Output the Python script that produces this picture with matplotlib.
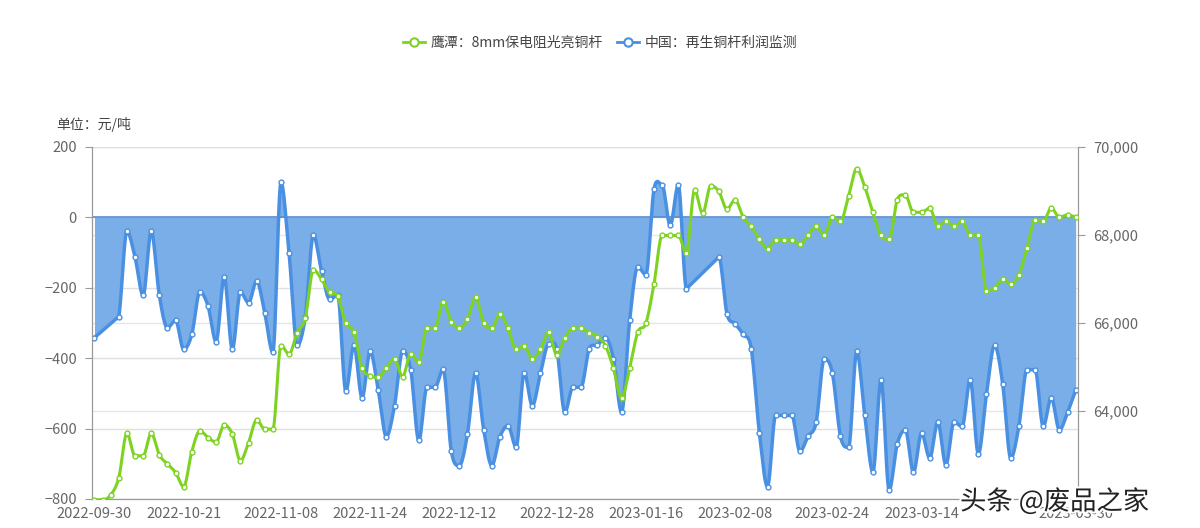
import numpy as np
import matplotlib.pyplot as plt
from matplotlib.ticker import FuncFormatter
import matplotlib.patheffects as pe

plt.rcParams['font.family'] = ['Noto Sans CJK SC', 'DejaVu Sans']

nan = np.nan
# 中国：再生铜杆利润监测 (元/吨, left axis)
profit = [-342, nan, nan, -282, -40, -113, -222, -40, -222, -314,
          -293, -375, -333, -212, -252, -353, -170, -375, -212, -243,
          -181, -272, -384, 99, -103, -364, -282, -51, -153, -233,
          -222, -494, -364, -513, -381, -492, -623, -535, -381, -433,
          -634, -483, -483, -432, -663, -705, -615, -443, -604, -705,
          -623, -592, -653, -442, -535, -443, -361, -374, -554, -483,
          -483, -374, -364, -342, -402, -554, -293, -141, -163, 79,
          91, -23, 91, -203, nan, nan, nan, -113, -274, -302,
          -333, -374, -613, -765, -563, -563, -563, -665, -622, -582,
          -402, -443, -622, -653, -381, -563, -724, -462, -775, -644,
          -604, -724, -613, -684, -582, -703, -582, -594, -462, -672,
          -503, -364, -473, -684, -593, -433, -433, -594, -513, -604,
          -554, -492]
# 鹰潭：8mm保电阻光亮铜杆 (元/吨, right axis)
price = [61980, 61980, 62090, 62485, 63490, 62980, 62980, 63490, 63000, 62795,
         62600, 62280, 63075, 63545, 63395, 63290, 63680, 63475, 62870, 63280,
         63795, 63585, 63585, 65485, 65290, 65780, 66105, 67205, 66990, 66690,
         66600, 65990, 65790, 64985, 64795, 64765, 64985, 65180, 64780, 65295,
         65100, 65880, 65880, 66485, 66030, 65880, 66090, 66585, 65990, 65880,
         66205, 65880, 65400, 65485, 65180, 65400, 65790, 65275, 65650, 65880,
         65880, 65780, 65690, 65485, 64970, 64290, 64970, 65790, 65990, 66885,
         67985, 67985, 67985, 67585, 69010, 68490, 69115, 68985, 68585, 68795,
         68400, 68190, 67900, 67680, 67885, 67885, 67885, 67790, 67985, 68190,
         67985, 68400, 68305, 68885, 69500, 69085, 68510, 67985, 67900, 68795,
         68895, 68510, 68510, 68605, 68205, 68305, 68190, 68305, 68000, 68000,
         66735, 66790, 66990, 66885, 67090, 67695, 68340, 68305, 68605, 68400,
         68455, 68400]
tick_idx = [0, 11, 23, 34, 45, 57, 68, 79, 91, 102, 121]
tick_labels = ['2022-09-30', '2022-10-21', '2022-11-08', '2022-11-24', '2022-12-12',
               '2022-12-28', '2023-01-16', '2023-02-08', '2023-02-24', '2023-03-14',
               '2023-03-30']

GREEN = '#7ed321'
BLUE = '#4a90e2'
FILL = '#7aaee8'


def smooth(x, y, n=12):
    # cubic hermite through the points; flat tangents at peaks, straight over gaps
    x = np.asarray(x, float)
    y = np.asarray(y, float)
    d = np.diff(y) / np.diff(x)
    m = np.zeros_like(y)
    m[0], m[-1] = d[0], d[-1]
    for i in range(1, len(y) - 1):
        if d[i - 1] * d[i] > 0:
            m[i] = 0.5 * (d[i - 1] + d[i])
    gaps = np.diff(x) > 1
    xs, ys = [], []
    for i in range(len(x) - 1):
        t = np.linspace(0, 1, n, endpoint=False)
        h = x[i + 1] - x[i]
        if gaps[i]:
            xs.append(x[i] + t * h)
            ys.append(y[i] + t * (y[i + 1] - y[i]))
            continue
        h00 = 2 * t**3 - 3 * t**2 + 1
        h10 = t**3 - 2 * t**2 + t
        h01 = -2 * t**3 + 3 * t**2
        h11 = t**3 - t**2
        xs.append(x[i] + t * h)
        ys.append(h00 * y[i] + h10 * h * m[i] + h01 * y[i + 1] + h11 * h * m[i + 1])
    xs.append([x[-1]])
    ys.append([y[-1]])
    return np.concatenate(xs), np.concatenate(ys)


profit = np.array(profit, float)
price = np.array(price, float)
x = np.arange(len(price))
ok = ~np.isnan(profit)

fig = plt.figure(figsize=(12, 5.28), dpi=100)
ax = fig.add_axes([0.0767, 0.055, 0.8217, 0.667])
ax2 = ax.twinx()

bx, by = smooth(x[ok], profit[ok])
ax.fill_between(bx, 0, by, color=FILL, lw=0, zorder=2)
ax.axhline(0, color='#5a8cd0', lw=1.2, zorder=3)
ax.plot(bx, by, color=BLUE, lw=2.5, zorder=4)
ax.plot(x[ok], profit[ok], 'o', ms=3.5, mfc='white', mec=BLUE, mew=1, zorder=5)

gx, gy = smooth(x, price)
ax2.plot(gx, gy, color=GREEN, lw=2.2, zorder=4)
ax2.plot(x, price, 'o', ms=3.5, mfc='white', mec=GREEN, mew=1, zorder=5)

ax.set_xlim(-0.3, len(x) - 0.7)
ax.set_ylim(-800, 200)
ax.set_yticks(range(-800, 201, 200))
ax2.set_ylim(62000, 70000)
ax2.set_yticks(range(62000, 70001, 2000))
ax2.yaxis.set_major_formatter(FuncFormatter(lambda v, p: '' if v == 62000 else f'{v:,.0f}'))
ax.set_xticks(tick_idx)
ax.set_xticklabels(tick_labels)

ax.grid(axis='y', color='#e0e0e0', lw=1, zorder=0)
for v in range(62000, 70001, 2000):
    ax.axhline(-800 + (v - 62000) / 8000 * 1000, color='#e6e6e6', lw=1, zorder=0)
ax.set_axisbelow(True)
for a in (ax, ax2):
    a.spines['top'].set_visible(False)
    for s in ('left', 'right', 'bottom'):
        a.spines[s].set_color('#999999')
    a.tick_params(colors='#666666', labelsize=10.5, length=0, pad=6)
ax.tick_params(axis='y', length=5, color='#999999')
ax2.tick_params(axis='y', length=5, color='#999999')

fig.text(0.047, 0.755, '单位：元/吨', fontsize=10, color='#444444')

# legend
ax.plot([], [], '-o', color=GREEN, mfc='white', mew=1.5, lw=2, ms=6,
        label='鹰潭：8mm保电阻光亮铜杆')
ax.plot([], [], '-o', color=BLUE, mfc='white', mew=1.5, lw=2, ms=6,
        label='中国：再生铜杆利润监测')
fig.legend(loc='upper center', bbox_to_anchor=(0.5, 0.955), ncol=2, frameon=False,
           fontsize=10, labelcolor='#444444', handlelength=1.6, columnspacing=1.0,
           handletextpad=0.4)

fig.text(0.80, 0.035, '头条 @废品之家', fontsize=19, color='#222222', zorder=10,
         path_effects=[pe.withStroke(linewidth=3, foreground='white')])

fig.savefig('out.png', dpi=100)
